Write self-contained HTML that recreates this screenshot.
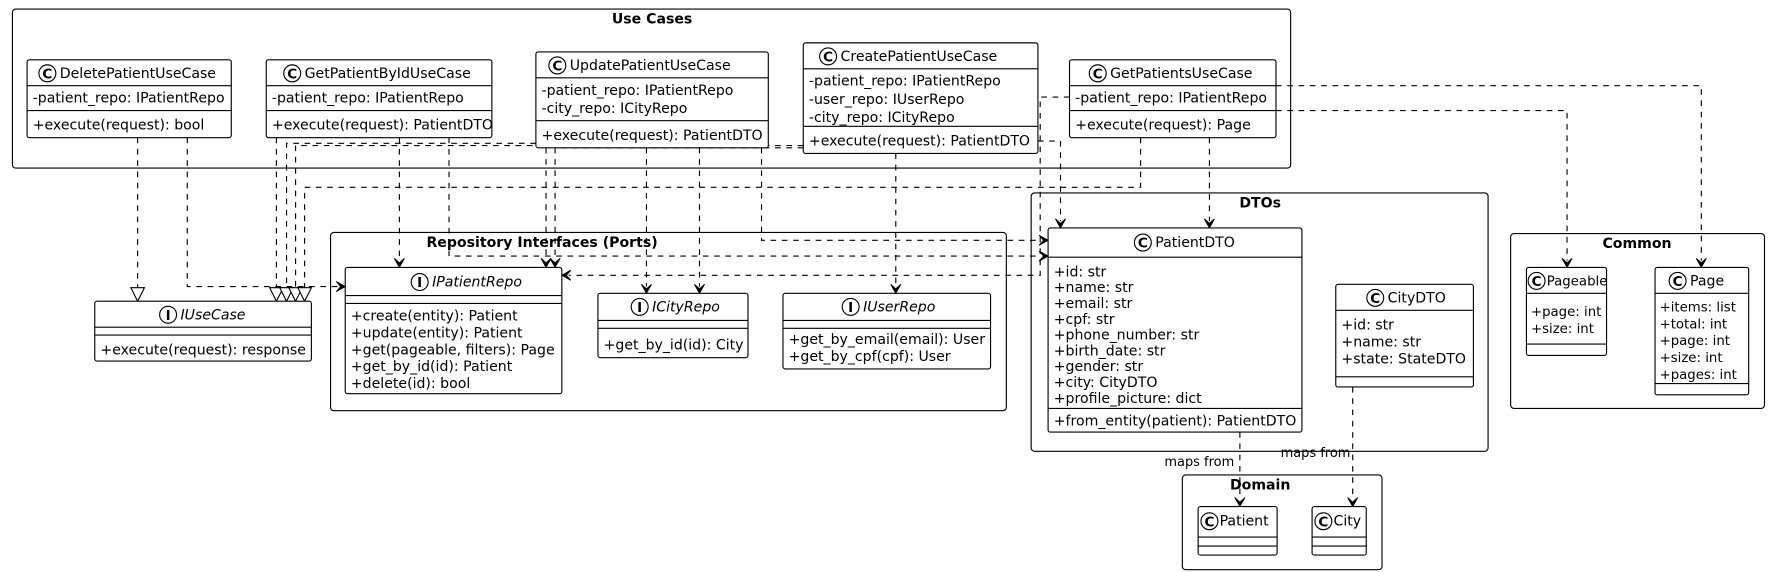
<!DOCTYPE html>
<html><head><meta charset="utf-8"><style>
html,body{margin:0;padding:0;background:#fff;}
svg{display:block;}
text{font-family:"DejaVu Sans","Liberation Sans",sans-serif;font-size:12.5px;fill:#000;}
.b{font-weight:bold;}
.i{font-style:italic;}
.box{fill:#fff;stroke:#000;stroke-width:1;}
.pk{fill:none;stroke:#000;stroke-width:1;}
.d{fill:none;stroke:#000;stroke-width:1;stroke-dasharray:5,5;}
.ar{fill:#000;stroke:#000;stroke-width:0.8;}
.tri{fill:#fff;stroke:#000;stroke-width:1;}
.s{font-size:11.8px;}
</style></head><body>
<svg width="1769" height="572" viewBox="0 0 1568 507" xmlns="http://www.w3.org/2000/svg">
<defs>
<g id="C"><circle r="7.5" fill="#fff" stroke="#000"/><text x="0" y="4.5" text-anchor="middle" style="font-size:12px;font-weight:bold">C</text></g>
<g id="I"><circle r="7.5" fill="#fff" stroke="#000"/><text x="0" y="4.5" text-anchor="middle" style="font-size:12px;font-weight:bold">I</text></g>
<path id="ad" d="M-4.5,-8 L0,0 L4.5,-8 L0,-4 Z"/>
<path id="ar" d="M-8,-4.5 L0,0 L-8,4.5 L-4,0 Z"/>
<path id="al" d="M8,-4.5 L0,0 L8,4.5 L4,0 Z"/>
</defs>

<!-- packages -->
<rect class="pk" x="11" y="8" width="1133" height="141" rx="3"/>
<text class="b" x="578" y="21" text-anchor="middle">Use Cases</text>
<rect class="pk" x="293" y="206" width="599" height="158" rx="3"/>
<rect class="pk" x="914" y="171" width="405" height="229" rx="3"/>
<text class="b" x="1117" y="184" text-anchor="middle">DTOs</text>
<rect class="pk" x="1339" y="207" width="225" height="155" rx="3"/>
<text class="b" x="1451" y="220" text-anchor="middle">Common</text>
<rect class="pk" x="1048" y="421" width="177" height="84" rx="3"/>
<text class="b" x="1117" y="434" text-anchor="middle">Domain</text>

<!-- connectors -->
<path class="d" d="M122 122V255"/>
<path class="d" d="M166 122V254H300"/>
<path class="d" d="M245 122V255"/>
<path class="d" d="M354 122V231"/>
<path class="d" d="M398 122V227H922"/>
<path class="d" d="M475 127H254V255"/>
<path class="d" d="M712 129H262V255"/>
<path class="d" d="M712 131H492V231"/>
<path class="d" d="M484 131V231"/>
<path class="d" d="M573 131V254"/>
<path class="d" d="M620 131V254"/>
<path class="d" d="M675 131V213H922"/>
<path class="d" d="M794 136V254"/>
<path class="d" d="M920 125H940V196"/>
<path class="d" d="M1011 122V166H270V255"/>
<path class="d" d="M1072 122V196"/>
<path class="d" d="M948 86H922V244H504"/>
<path class="d" d="M1131 98H1389V231"/>
<path class="d" d="M1131 76H1508V231"/>
<path class="d" d="M1099 383V443"/>
<path class="d" d="M1199 343V443"/>
<text x="1094" y="413" text-anchor="end" style="font-size:11.5px">maps from</text>
<text x="1197" y="405" text-anchor="end" style="font-size:11.5px">maps from</text>

<!-- arrowheads -->
<g class="ar">
<use href="#ad" x="354" y="237"/>
<use href="#ad" x="484" y="237"/>
<use href="#ad" x="492" y="237"/>
<use href="#ad" x="573" y="260"/>
<use href="#ad" x="620" y="260"/>
<use href="#ad" x="794" y="260"/>
<use href="#ad" x="940" y="202"/>
<use href="#ad" x="1072" y="202"/>
<use href="#ad" x="1389" y="237"/>
<use href="#ad" x="1508" y="237"/>
<use href="#ad" x="1099" y="449"/>
<use href="#ad" x="1199" y="449"/>
<use href="#ar" x="306" y="254"/>
<use href="#ar" x="929" y="213"/>
<use href="#ar" x="929" y="227"/>
<use href="#al" x="498" y="244"/>
</g>
<path class="tri" d="M116 255H128L122 267Z"/>
<path class="tri" d="M239 255H251L245 267Z"/>
<path class="tri" d="M248 255H260L254 267Z"/>
<path class="tri" d="M256 255H268L262 267Z"/>
<path class="tri" d="M264 255H276L270 267Z"/>

<!-- Delete -->
<rect class="box" x="24" y="53" width="181" height="69" rx="2"/>
<path class="pk" d="M24 76H205M24 98H205"/>
<use href="#C" x="42" y="65"/><text x="53" y="69">DeletePatientUseCase</text>
<text x="29" y="91">-patient_repo: IPatientRepo</text>
<text x="29" y="115">+execute(request): bool</text>

<!-- GetById -->
<rect class="box" x="236" y="53" width="200" height="69" rx="2"/>
<path class="pk" d="M236 76H436M236 98H436"/>
<use href="#C" x="259" y="65"/><text x="270" y="69">GetPatientByIdUseCase</text>
<text x="241" y="91">-patient_repo: IPatientRepo</text>
<text x="241" y="115">+execute(request): PatientDTO</text>

<!-- Update -->
<rect class="box" x="475" y="46" width="206" height="85" rx="2"/>
<path class="pk" d="M475 69H681M475 107H681"/>
<use href="#C" x="494" y="58"/><text x="505" y="62">UpdatePatientUseCase</text>
<text x="480" y="84">-patient_repo: IPatientRepo</text>
<text x="480" y="100">-city_repo: ICityRepo</text>
<text x="480" y="124">+execute(request): PatientDTO</text>

<!-- Create -->
<rect class="box" x="712" y="38" width="208" height="98" rx="2"/>
<path class="pk" d="M712 61H920M712 112H920"/>
<use href="#C" x="734" y="50"/><text x="745" y="54">CreatePatientUseCase</text>
<text x="717" y="76">-patient_repo: IPatientRepo</text>
<text x="717" y="92">-user_repo: IUserRepo</text>
<text x="717" y="108">-city_repo: ICityRepo</text>
<text x="717" y="129">+execute(request): PatientDTO</text>

<!-- GetPatients -->
<rect class="box" x="948" y="53" width="183" height="69" rx="2"/>
<path class="pk" d="M948 76H1131M948 98H1131"/>
<use href="#C" x="973" y="65"/><text x="984" y="69">GetPatientsUseCase</text>
<text x="953" y="91">-patient_repo: IPatientRepo</text>
<text x="953" y="115">+execute(request): Page</text>

<text class="b" x="378" y="219">Repository Interfaces (Ports)</text>

<!-- IPatientRepo -->
<rect class="box" x="306" y="237" width="192" height="112" rx="2"/>
<path class="pk" d="M306 262H498M306 269H498"/>
<use href="#I" x="372" y="250"/><text class="i" x="383" y="254">IPatientRepo</text>
<text x="311" y="284">+create(entity): Patient</text>
<text x="311" y="299">+update(entity): Patient</text>
<text x="311" y="314">+get(pageable, filters): Page</text>
<text x="311" y="329">+get_by_id(id): Patient</text>
<text x="311" y="344">+delete(id): bool</text>

<!-- ICityRepo -->
<rect class="box" x="530" y="260" width="133" height="57" rx="2"/>
<path class="pk" d="M530 284H663M530 291H663"/>
<use href="#I" x="567" y="272"/><text class="i" x="578" y="276">ICityRepo</text>
<text x="535" y="310">+get_by_id(id): City</text>

<!-- IUserRepo -->
<rect class="box" x="694" y="260" width="184" height="67" rx="2"/>
<path class="pk" d="M694 284H878M694 291H878"/>
<use href="#I" x="754" y="272"/><text class="i" x="765" y="276">IUserRepo</text>
<text x="699" y="305">+get_by_email(email): User</text>
<text x="699" y="320">+get_by_cpf(cpf): User</text>

<!-- IUseCase -->
<rect class="box" x="84" y="267" width="192" height="53" rx="2"/>
<path class="pk" d="M84 290H276M84 297H276"/>
<use href="#I" x="149" y="279"/><text class="i" x="160" y="283">IUseCase</text>
<text x="89" y="314">+execute(request): response</text>

<!-- PatientDTO -->
<rect class="box" x="929" y="202" width="225" height="181" rx="2"/>
<path class="pk" d="M929 228H1154M929 362H1154"/>
<use href="#C" x="1013" y="215"/><text x="1024" y="219">PatientDTO</text>
<text x="934" y="245">+id: str</text>
<text x="934" y="259">+name: str</text>
<text x="934" y="273">+email: str</text>
<text x="934" y="287">+cpf: str</text>
<text x="934" y="301">+phone_number: str</text>
<text x="934" y="315">+birth_date: str</text>
<text x="934" y="329">+gender: str</text>
<text x="934" y="343">+city: CityDTO</text>
<text x="934" y="357">+profile_picture: dict</text>
<text x="934" y="377">+from_entity(patient): PatientDTO</text>

<!-- CityDTO -->
<rect class="box" x="1184" y="252" width="122" height="91" rx="2"/>
<path class="pk" d="M1184 275H1306M1184 334H1306"/>
<use href="#C" x="1219" y="264"/><text x="1230" y="268">CityDTO</text>
<text x="1189" y="292">+id: str</text>
<text x="1189" y="307">+name: str</text>
<text x="1189" y="322">+state: StateDTO</text>

<!-- Pageable -->
<rect class="box" x="1353" y="237" width="71" height="78" rx="2"/>
<path class="pk" d="M1353 260H1424M1353 305H1424"/>
<use href="#C" x="1362" y="249"/><text class="s" x="1371" y="253">Pageable</text>
<text class="s" x="1357" y="280">+page: int</text>
<text class="s" x="1357" y="295">+size: int</text>

<!-- Page -->
<rect class="box" x="1467" y="237" width="83" height="113" rx="2"/>
<path class="pk" d="M1467 260H1550M1467 340H1550"/>
<use href="#C" x="1487" y="249"/><text x="1498" y="253">Page</text>
<text class="s" x="1471" y="276">+items: list</text>
<text class="s" x="1471" y="291">+total: int</text>
<text class="s" x="1471" y="306">+page: int</text>
<text class="s" x="1471" y="321">+size: int</text>
<text class="s" x="1471" y="336">+pages: int</text>

<!-- Patient / City -->
<rect class="box" x="1062" y="449" width="70" height="43" rx="2"/>
<path class="pk" d="M1062 476H1132M1062 484H1132"/>
<use href="#C" x="1072" y="462"/><text x="1081" y="466">Patient</text>
<rect class="box" x="1163" y="449" width="48" height="43" rx="2"/>
<path class="pk" d="M1163 476H1211M1163 484H1211"/>
<use href="#C" x="1173" y="462"/><text x="1182" y="466">City</text>
</svg>
</body></html>
